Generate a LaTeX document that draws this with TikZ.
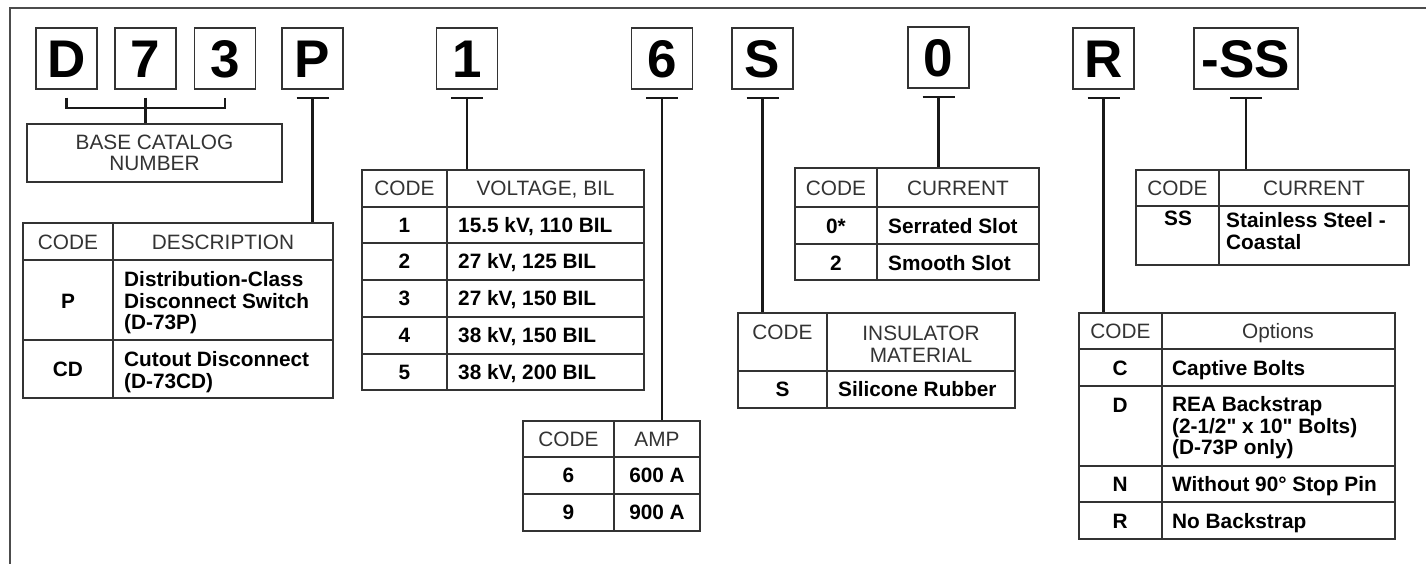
\documentclass[tikz,border=0pt]{standalone}
\usepackage{fontspec}
\setmainfont{Liberation Sans}[Ligatures=TeXOff]
\usetikzlibrary{fit,calc}
\newcommand\fs{\fontsize{20.8}{21.5}\selectfont}
\newcommand\bigfs{\fontsize{53}{53}\selectfont\bfseries}
\newcommand\tconn[2]{%
  \draw[conn] ($(#1.south)+(-16,8)$) -- ($(#1.south)+(16,8)$);
  \draw[conn] ($(#1.south)+(0,8)$) -- (#1.south |- #2.north);}
\begin{document}
\begin{tikzpicture}[x=1pt,y=-1pt,line join=miter,
  letter/.style={draw=black!80, line width=1.3pt, minimum height=61pt, minimum width=61pt, inner sep=0pt, font=\bigfs, text height=38pt, text depth=0pt},
  tbl/.style={draw=black!80, line width=1.3pt, inner sep=0pt},
  grid/.style={draw=black!80, line width=1.3pt},
  conn/.style={draw=black!90, line width=2.2pt},
  frame/.style={draw=black!70, line width=2pt},
  hd/.style={font=\fs, text=black!80, inner sep=0pt, text height=14.9pt, text depth=0pt},
  bd/.style={font=\fs\bfseries, inner sep=0pt, text height=14.9pt, text depth=0pt},
  hdm/.style={font=\fs, text=black!80, inner sep=0pt, align=center},
  bdm/.style={font=\fs\bfseries, inner sep=0pt, align=left, anchor=west}]
\useasboundingbox (0,0) rectangle (1426,564);
\draw[frame] (10,564) -- (10,8) -- (1427,8);

% code letters
\node[letter] (bD) at (66.5,58.5) {D};
\node[letter] (b7) at (145.5,58.5) {7};
\node[letter] (b3) at (225,58.5) {3};
\node[letter] (bP) at (312.5,58.5) {P};
\node[letter] (b1) at (467,58.5) {1};
\node[letter] (b6) at (662,58.5) {6};
\node[letter] (bS) at (762.5,58.5) {S};
\node[letter] (b0) at (938.5,57.5) {0};
\node[letter] (bR) at (1103.5,58.5) {R};
\node[letter, minimum width=104pt] (bSS) at (1246,58.5) {-SS};

% base catalog number
\node[tbl, minimum width=255pt, minimum height=58pt, font=\fs, text=black!80, align=center] (base) at (154.5,153) {BASE CATALOG\\NUMBER};
\draw[conn] ($(bD.south)+(0,8)$) -- ($(bD.south)+(0,18)$) -- ($(b3.south)+(0,18)$) -- ($(b3.south)+(0,8)$);
\draw[conn] ($(b7.south)+(0,8)$) -- (b7.south |- base.north);

% tables
\node[tbl, fit={(23,223) (333,398)}] (td) {};
\draw[grid] (113,223) -- (113,398) (23,260) -- (333,260) (23,340) -- (333,340);
\node[tbl, fit={(362,170) (644,390)}] (tv) {};
\draw[grid] (447,170) -- (447,390) (362,207) -- (644,207) (362,243) -- (644,243)
  (362,280) -- (644,280) (362,317) -- (644,317) (362,354) -- (644,354);
\node[tbl, fit={(523,421) (700,531)}] (ta) {};
\draw[grid] (614,421) -- (614,531) (523,457) -- (700,457) (523,494) -- (700,494);
\node[tbl, fit={(738,313) (1015,408)}] (ti) {};
\draw[grid] (827,313) -- (827,408) (738,371) -- (1015,371);
\node[tbl, fit={(795,168) (1039,280)}] (tc) {};
\draw[grid] (877,168) -- (877,280) (795,207) -- (1039,207) (795,244) -- (1039,244);
\node[tbl, fit={(1136,170) (1409,265)}] (ts) {};
\draw[grid] (1219,170) -- (1219,265) (1136,206) -- (1409,206);
\node[tbl, fit={(1079,313) (1395,539)}] (to) {};
\draw[grid] (1162,313) -- (1162,539) (1079,349) -- (1395,349) (1079,386) -- (1395,386)
  (1079,466) -- (1395,466) (1079,502) -- (1395,502);

% connectors
\tconn{bP}{td}
\tconn{b1}{tv}
\tconn{b6}{ta}
\tconn{bS}{ti}
\tconn{b0}{tc}
\tconn{bR}{to}
\tconn{bSS}{ts}

% description table text
\node[hd] (d1) at (68,242) {CODE};
\node[hd] (d2) at (223,242) {DESCRIPTION};
\node[bd] (d3) at (68,301) {P};
\node[bdm] (d4) at (124,303) {Distribution-Class\\Disconnect Switch\\(D-73P)};
\node[bd] (d5) at (68,369) {CD};
\node[bdm] (d6) at (124,372) {Cutout Disconnect\\(D-73CD)};

% voltage table text
\node[hd] (v1) at (404.5,188.5) {CODE};
\node[hd] (v2) at (545.5,188.5) {VOLTAGE, BIL};
\node[bd] (v3) at (404.5,225) {1};
\node[bd, anchor=west] (v4) at (458,225) {15.5 kV, 110 BIL};
\node[bd] (v5) at (404.5,261.5) {2};
\node[bd, anchor=west] (v6) at (458,261.5) {27 kV, 125 BIL};
\node[bd] (v7) at (404.5,298.5) {3};
\node[bd, anchor=west] (v8) at (458,298.5) {27 kV, 150 BIL};
\node[bd] (v9) at (404.5,335.5) {4};
\node[bd, anchor=west] (v10) at (458,335.5) {38 kV, 150 BIL};
\node[bd] (v11) at (404.5,372) {5};
\node[bd, anchor=west] (v12) at (458,372) {38 kV, 200 BIL};

% amp table text
\node[hd] (a1) at (568.5,439) {CODE};
\node[hd] (a2) at (657,439) {AMP};
\node[bd] (a3) at (568.5,475.5) {6};
\node[bd] (a4) at (657,475.5) {600 A};
\node[bd] (a5) at (568.5,512.5) {9};
\node[bd] (a6) at (657,512.5) {900 A};

% insulator table text
\node[hd] (i1) at (782.5,332) {CODE};
\node[hdm] (i2) at (921,344) {INSULATOR\\MATERIAL};
\node[bd] (i3) at (782.5,389.5) {S};
\node[bd, anchor=west] (i4) at (838,389.5) {Silicone Rubber};

% current table text
\node[hd] (c1) at (836,188) {CODE};
\node[hd] (c2) at (958,188) {CURRENT};
\node[bd] (c3) at (836,226) {0*};
\node[bd, anchor=west] (c4) at (888,226) {Serrated Slot};
\node[bd] (c5) at (836,263) {2};
\node[bd, anchor=west] (c6) at (888,263) {Smooth Slot};

% stainless table text
\node[hd] (s1) at (1177.5,188) {CODE};
\node[hd] (s2) at (1314,188) {CURRENT};
\node[bd] (s3) at (1178,218) {SS};
\node[bdm] (s4) at (1226,231) {Stainless Steel -\\Coastal};

% options table text
\node[hd] (o1) at (1120.5,331) {CODE};
\node[hd] (o2) at (1278,331) {Options};
\node[bd] (o3) at (1120,368) {C};
\node[bd, anchor=west] (o4) at (1172,368) {Captive Bolts};
\node[bd] (o5) at (1120,405) {D};
\node[bdm] (o6) at (1172,428) {REA Backstrap\\(2-1/2" x 10" Bolts)\\(D-73P only)};
\node[bd] (o7) at (1120,484) {N};
\node[bd, anchor=west] (o8) at (1172,484) {Without 90° Stop Pin};
\node[bd] (o9) at (1120,521) {R};
\node[bd, anchor=west] (o10) at (1172,521) {No Backstrap};
\end{tikzpicture}
\end{document}
